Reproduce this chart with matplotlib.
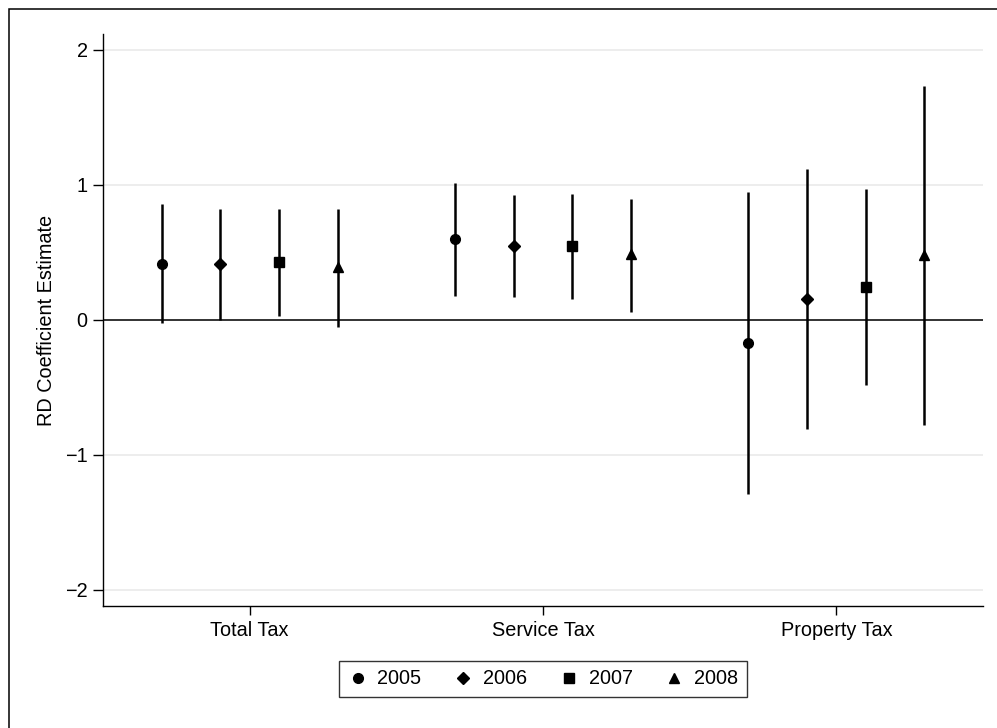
import matplotlib
matplotlib.use("Agg")
import matplotlib.pyplot as plt
from matplotlib.lines import Line2D
from matplotlib.patches import Rectangle
import numpy as np

# -----------------------------
# Data: RD estimates with confidence intervals
# -----------------------------
categories = ["Total Tax", "Service Tax", "Property Tax"]
years = ["2005", "2006", "2007", "2008"]

est_2005 = [0.413, 0.594, -0.172]
lo_2005 = [-0.028, 0.174, -1.29]
hi_2005 = [0.855, 1.009, 0.947]

est_2006 = [0.41, 0.544, 0.15]
lo_2006 = [0.0, 0.167, -0.813]
hi_2006 = [0.82, 0.925, 1.115]

est_2007 = [0.424, 0.542, 0.243]
lo_2007 = [0.024, 0.15, -0.485]
hi_2007 = [0.82, 0.93, 0.969]

est_2008 = [0.39, 0.485, 0.478]
lo_2008 = [-0.053, 0.053, -0.784]
hi_2008 = [0.82, 0.895, 1.73]

series = [
    (est_2005, lo_2005, hi_2005),
    (est_2006, lo_2006, hi_2006),
    (est_2007, lo_2007, hi_2007),
    (est_2008, lo_2008, hi_2008),
]
markers = ["o", "D", "s", "^"]
msizes = [7, 6.5, 6.5, 7.5]
offsets = [-0.3, -0.1, 0.1, 0.3]

plt.rcParams["font.family"] = ["Liberation Sans", "DejaVu Sans"]
FS = 14.3

# -----------------------------
# Figure
# -----------------------------
fig = plt.figure(figsize=(9.97, 7.28), dpi=100)
ax = fig.add_axes([103 / 997, 1 - 606 / 728, 880 / 997, 572 / 728])

pos = np.arange(1, len(categories) + 1)

for yv in [-2, -1, 1, 2]:
    ax.axhline(yv, color="#e8e8e8", lw=1.1, zorder=0)
ax.axhline(0, color="#333333", lw=1.4, zorder=1)

for (est, lo, hi), m, ms, off in zip(series, markers, msizes, offsets):
    x = pos + off
    ax.vlines(x, lo, hi, color="black", lw=1.8, zorder=2)
    ax.plot(x, est, linestyle="none", marker=m, markersize=ms,
            color="black", zorder=3)

ax.set_xlim(0.5, 3.5)
ax.set_ylim(-2.122, 2.115)
ax.set_xticks(pos)
ax.set_xticklabels(categories, fontsize=FS)
ax.set_yticks([-2, -1, 0, 1, 2])
ax.tick_params(axis="y", labelsize=FS, length=7, width=1, pad=4)
ax.tick_params(axis="x", labelsize=FS, length=6.5, width=1, pad=4)

ax.spines["top"].set_visible(False)
ax.spines["right"].set_visible(False)
ax.spines["left"].set_linewidth(1)
ax.spines["bottom"].set_linewidth(1)

ax.set_ylabel("RD Coefficient Estimate", fontsize=FS)
ax.yaxis.set_label_coords(-0.053, 0.5)

# legend with marker-only handles
handles = [Line2D([], [], linestyle="none", marker=m, markersize=ms,
                  color="black") for m, ms in zip(markers, msizes)]
leg = fig.legend(handles, years, loc="center",
                 bbox_to_anchor=(543 / 997, 1 - 679 / 728),
                 ncol=4, fontsize=FS, frameon=True, fancybox=False,
                 handlelength=1.0, handletextpad=0.5, columnspacing=1.6,
                 borderpad=0.45, edgecolor="black")
leg.get_frame().set_linewidth(1)

# outer frame around the graph region
fig.patches.append(Rectangle((9 / 997, -0.5), 2, 1 - 8.5 / 728 + 0.5,
                             transform=fig.transFigure, fill=False,
                             edgecolor="black", lw=1.1))

fig.savefig("out.png", dpi=100)
